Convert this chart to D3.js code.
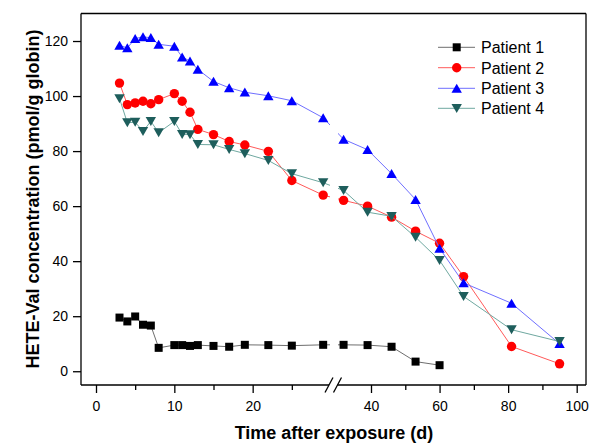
<!DOCTYPE html>
<html>
<head>
<meta charset="utf-8">
<script src="https://cdn.jsdelivr.net/npm/d3@7"></script>
<style>
  html, body { margin: 0; padding: 0; background: #fff; }
  svg { display: block; font-family: Arial, "Liberation Sans", sans-serif; }
</style>
</head>
<body>
<svg id="chart" width="591" height="445"></svg>
<script>
// ---- data ----
const days = [3,4,5,6,7,8,10,11,12,13,15,17,19,22,25,29,32,39,46,53,60,67,81,95];
const patient1 = [19.5,18.1,19.9,16.9,16.6,8.5,9.5,9.5,9.2,9.5,9.2,8.9,9.6,9.5,9.3,9.6,9.6,9.5,8.9,3.5,2.2];
const patient2 = [104.7,96.9,97.5,98.1,97.2,98.7,100.9,98.1,94.1,87.9,86.0,83.5,82.2,79.9,69.3,64.0,62.1,60.0,56.0,50.9,46.5,34.4,9.0,2.7];
const patient3 = [118.4,117.5,120.9,121.5,121.2,118.8,118.1,114.2,112.7,109.7,105.3,103.0,101.4,100.1,98.3,92.1,84.3,80.5,71.8,62.4,44.7,32.1,24.7,10.0];
const patient4 = [99.1,90.3,90.5,87.2,90.8,86.7,90.8,86.1,86.0,82.4,82.3,80.6,79.1,76.6,71.8,68.5,65.7,57.8,56.3,48.7,40.3,27.2,15.1,10.8];
const seriesNames = ["Patient 1","Patient 2","Patient 3","Patient 4"];
const yTicks = [0,20,40,60,80,100,120];
const xTicksLeft = [0,10,20];
const xMinorLeft = [5,15,25];
const xTicksRight = [40,60,80,100];
const xMinorRight = [50,70,90];
const breakAt = 30;

// ---- layout ----
const svg = d3.select("#chart");
const L = 81, R = 586, T = 13.5, B = 385;

const y = d3.scaleLinear().domain([-5,130]).range([B, T]);
const x1 = d3.scaleLinear().domain([0,30]).range([96, 331]);
const x2 = d3.scaleLinear().domain([40,100]).range([371, 576.7]);
const xp = d => d <= breakAt ? x1(d) : x2(d);

const styles = [
  {line:"#6e6e6e", fill:"#000000", shape:"square"},
  {line:"#ff5a5a", fill:"#ff0000", shape:"circle"},
  {line:"#6f6fff", fill:"#0000ff", shape:"up"},
  {line:"#6fa8a0", fill:"#1e5e5c", shape:"down"}
];
const allSeries = [patient1, patient2, patient3, patient4];

// clip (broken axis)
const defs = svg.append("defs");
const cp = defs.append("clipPath").attr("id","brk");
cp.append("rect").attr("x",L).attr("y",T).attr("width",330-L).attr("height",B-T);
cp.append("rect").attr("x",338).attr("y",T).attr("width",R-338).attr("height",B-T);

function marker(g, shape, cx, cy, fill){
  if (shape === "square") {
    g.append("rect").attr("x",cx-4).attr("y",cy-4).attr("width",8).attr("height",8).attr("fill",fill);
  } else if (shape === "circle") {
    g.append("circle").attr("cx",cx).attr("cy",cy).attr("r",4.7).attr("fill",fill);
  } else if (shape === "up") {
    g.append("path").attr("d",`M${cx},${cy-4.6}L${cx+5.2},${cy+4.4}L${cx-5.2},${cy+4.4}Z`).attr("fill",fill);
  } else {
    g.append("path").attr("d",`M${cx},${cy+4.6}L${cx+5.2},${cy-4.4}L${cx-5.2},${cy-4.4}Z`).attr("fill",fill);
  }
}

const line = d3.line().x(d => xp(d[0])).y(d => y(d[1]));
const plot = svg.append("g");
allSeries.forEach((vals, i) => {
  const pts = vals.map((v, j) => [days[j], v]);
  const st = styles[i];
  const g = plot.append("g");
  g.append("path").attr("d", line(pts)).attr("fill","none")
    .attr("stroke", st.line).attr("stroke-width",1).attr("clip-path","url(#brk)");
  pts.forEach(p => marker(g, st.shape, xp(p[0]), y(p[1]), st.fill));
});

// frame
const frame = svg.append("g").attr("stroke","#000").attr("stroke-width",1.3).attr("fill","none");
frame.append("line").attr("x1",L).attr("x2",R).attr("y1",T).attr("y2",T);
frame.append("line").attr("x1",L).attr("x2",L).attr("y1",T).attr("y2",B);
frame.append("line").attr("x1",R).attr("x2",R).attr("y1",T).attr("y2",B);
frame.append("line").attr("x1",L).attr("x2",329).attr("y1",B).attr("y2",B);
frame.append("line").attr("x1",337.5).attr("x2",R).attr("y1",B).attr("y2",B);
// break marks
frame.append("line").attr("x1",325).attr("y1",392.5).attr("x2",333).attr("y2",377.5);
frame.append("line").attr("x1",333.5).attr("y1",392.5).attr("x2",341.5).attr("y2",377.5);

// axes
function styleAxis(g){
  g.select(".domain").remove();
  g.selectAll(".tick line").attr("stroke","#000").attr("stroke-width",1.3);
  g.selectAll(".tick text").attr("fill","#000").style("font-size","14px")
    .style("font-family",'Arial, "Liberation Sans", sans-serif');
}
svg.append("g").attr("transform",`translate(${L},0)`)
  .call(d3.axisLeft(y).tickValues(yTicks).tickSize(8).tickPadding(5)).call(styleAxis);
svg.append("g").attr("transform",`translate(0,${B})`)
  .call(d3.axisBottom(x1).tickValues(xTicksLeft).tickSize(8).tickPadding(8)).call(styleAxis);
svg.append("g").attr("transform",`translate(0,${B})`)
  .call(d3.axisBottom(x1).tickValues(xMinorLeft).tickSize(5).tickFormat("")).call(styleAxis);
svg.append("g").attr("transform",`translate(0,${B})`)
  .call(d3.axisBottom(x2).tickValues(xTicksRight).tickSize(8).tickPadding(8)).call(styleAxis);
svg.append("g").attr("transform",`translate(0,${B})`)
  .call(d3.axisBottom(x2).tickValues(xMinorRight).tickSize(5).tickFormat("")).call(styleAxis);

// titles
svg.append("text").attr("x",334).attr("y",439).attr("text-anchor","middle")
  .style("font-size","18px").style("font-weight","bold").text("Time after exposure (d)");
svg.append("text").attr("transform","translate(38.5,199) rotate(-90)").attr("text-anchor","middle")
  .style("font-size","18px").style("font-weight","bold").text("HETE-Val concentration (pmol/g globin)");

// legend
const legY = [47.3, 67.7, 88.3, 108.3];
const leg = svg.append("g");
seriesNames.forEach((name, i) => {
  const st = styles[i];
  leg.append("line").attr("x1",438).attr("x2",475).attr("y1",legY[i]).attr("y2",legY[i])
    .attr("stroke",st.line).attr("stroke-width",1);
  marker(leg, st.shape, 456.7, legY[i], st.fill);
  leg.append("text").attr("x",481).attr("y",legY[i]+5.8).style("font-size","16px").text(name);
});
</script>
</body>
</html>
